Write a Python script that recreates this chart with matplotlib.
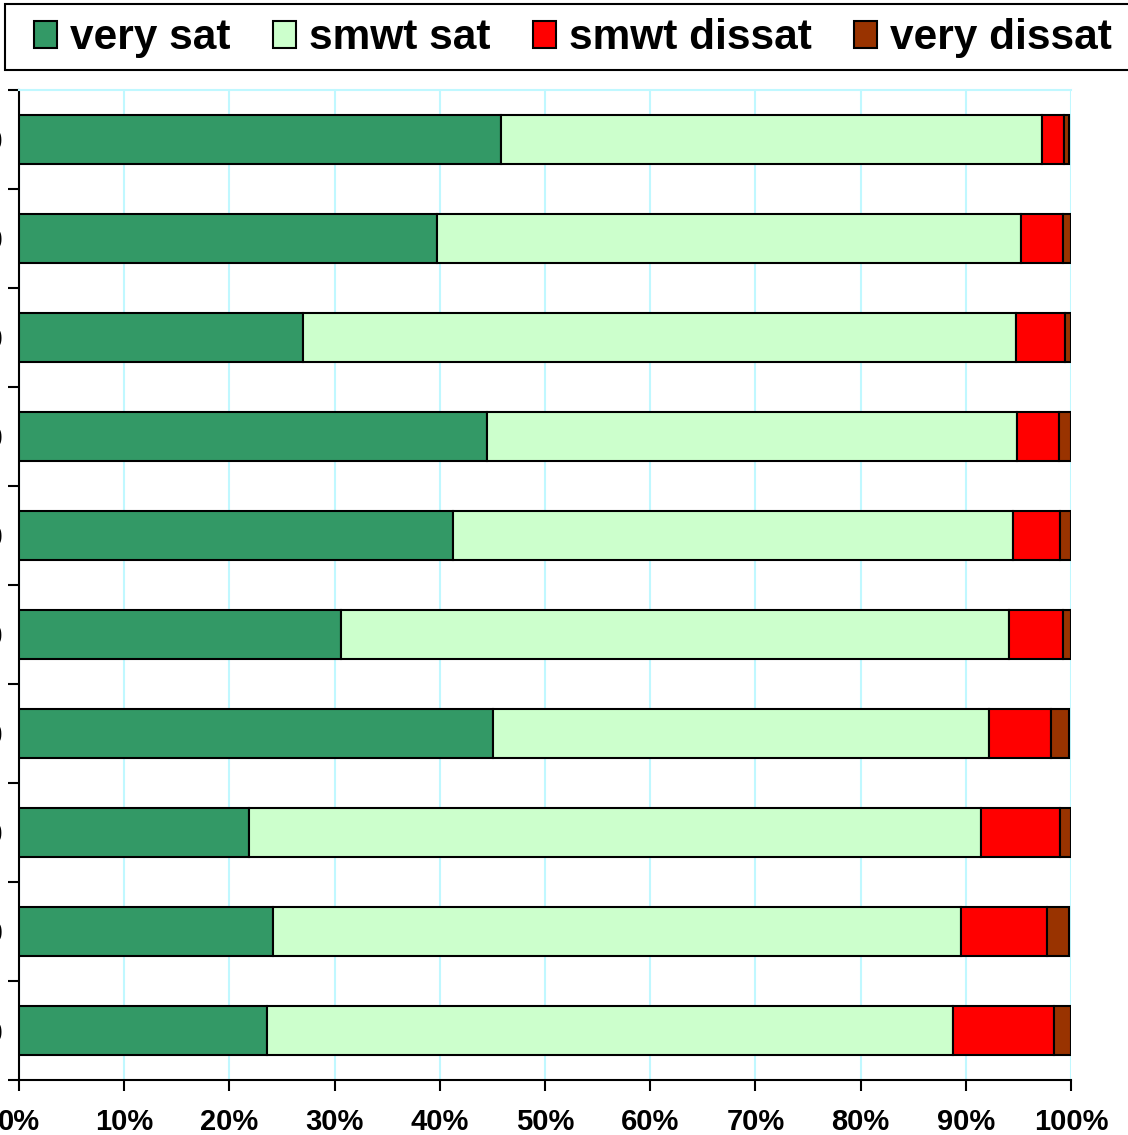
import matplotlib.pyplot as plt
from matplotlib.patches import Rectangle
import numpy as np

# row labels are clipped off the left edge in the reference
groups = ['1920', '1930', '1940', '1950', '1960', '1970', '1980', '1990', '2000', '2010']
very_sat = [45.8, 39.7, 27.0, 44.5, 41.3, 30.6, 45.1, 21.9, 24.1, 23.6]
smwt_sat = [51.4, 55.5, 67.8, 50.4, 53.2, 63.5, 47.1, 69.5, 65.4, 65.2]
smwt_dissat = [2.1, 4.0, 4.6, 4.0, 4.5, 5.1, 5.9, 7.6, 8.2, 9.6]
very_dissat = [0.5, 0.8, 0.6, 1.1, 1.0, 0.8, 1.7, 1.0, 2.1, 1.6]

series = [('very sat', very_sat, '#339966'),
          ('smwt sat', smwt_sat, '#CCFFCC'),
          ('smwt dissat', smwt_dissat, '#FF0000'),
          ('very dissat', very_dissat, '#993300')]

plt.rcParams['font.family'] = ['Liberation Sans', 'DejaVu Sans']
plt.rcParams['font.weight'] = 'bold'

W, H = 1128, 1135
fig = plt.figure(figsize=(W / 100, H / 100), dpi=100)
ax = fig.add_axes([19 / W, 1 - 1080 / H, 1052 / W, 990 / H])

y = np.arange(len(groups))
left = np.zeros(len(groups))
for name, vals, color in series:
    vals = np.array(vals) / 100
    ax.barh(y, vals, left=left, height=0.5, color=color, edgecolor='black',
            linewidth=1.5, label=name, zorder=3)
    left += vals

ax.set_xlim(0, 1)
ax.set_ylim(len(groups) - 0.5, -0.5)

ax.set_xticks(np.arange(0, 1.01, 0.1))
ax.set_xticklabels([f'{int(round(v * 100))}%' for v in np.arange(0, 1.01, 0.1)],
                   fontsize=21, fontweight='bold')
ax.xaxis.grid(True, color='#C0F8FF', linewidth=1.5, zorder=0)

ax.set_yticks(np.arange(-0.5, len(groups), 1))
ax.set_yticklabels([])
ax.set_yticks(y, minor=True)
ax.set_yticklabels(groups, minor=True, fontsize=21, fontweight='bold')
ax.tick_params(axis='y', which='minor', length=0, pad=11.5)
ax.tick_params(axis='both', which='major', length=8, width=1.5, direction='out')
ax.tick_params(axis='x', pad=12)

ax.spines['left'].set_linewidth(1.5)
ax.spines['bottom'].set_linewidth(1.5)
ax.spines['right'].set_visible(False)
ax.spines['top'].set_color('#C0F8FF')
ax.spines['top'].set_linewidth(1.5)

# legend box runs off the right edge like the reference
fig.patches.append(Rectangle((5 / W, 1 - 70 / H), 1.2, 66 / H, transform=fig.transFigure,
                             facecolor='white', edgecolor='black', linewidth=1.5))
leg = fig.legend(loc='center left', bbox_to_anchor=(34 / W, 1 - 38 / H), ncol=4,
                 fontsize=30.5, frameon=False,
                 handlelength=0.55, handleheight=0.6, handletextpad=0.3,
                 columnspacing=1.0, borderpad=0, borderaxespad=0)

fig.savefig('out.png', dpi=100)
